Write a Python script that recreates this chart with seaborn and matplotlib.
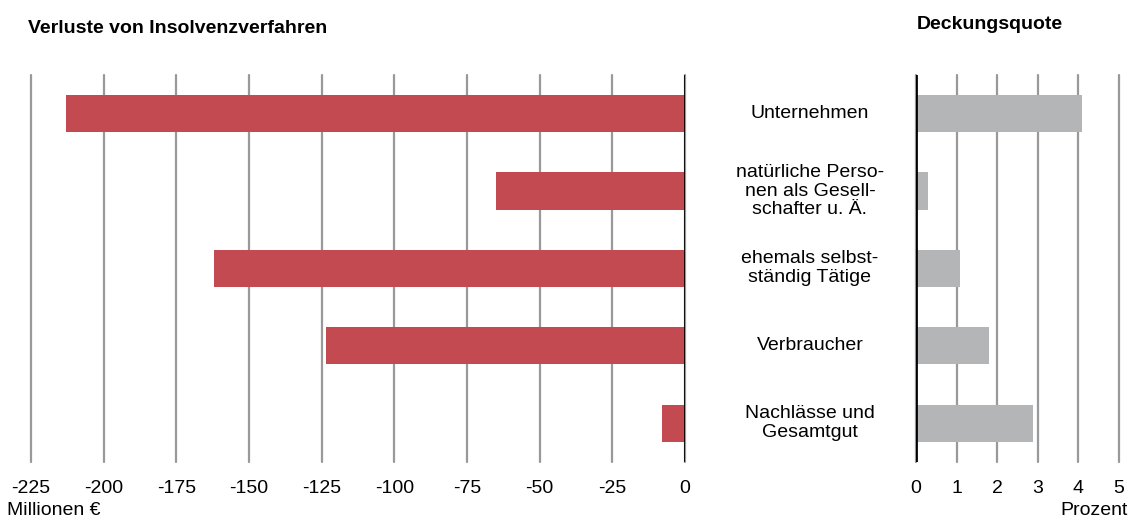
import matplotlib
matplotlib.use("Agg")
import matplotlib.pyplot as plt
import matplotlib.transforms as mtransforms
import seaborn as sns
import pandas as pd

# Daten
kategorien = [
    "Unternehmen",
    "natürliche Perso-\nnen als Gesell-\nschafter u. Ä.",
    "ehemals selbst-\nständig Tätige",
    "Verbraucher",
    "Nachlässe und\nGesamtgut",
]
verluste = [-213, -65, -162, -123.5, -8]       # Millionen €
deckungsquote = [4.08, 0.29, 1.08, 1.79, 2.88]  # Prozent

verlust_ticks = list(range(-225, 1, 25))
quote_ticks = list(range(0, 6))

sns.set_theme(style="white")
plt.rcParams['font.family'] = ['Liberation Sans', 'DejaVu Sans']
plt.rcParams['font.size'] = 14
plt.rcParams['text.color'] = 'black'

df = pd.DataFrame({"kategorie": kategorien, "verlust": verluste, "quote": deckungsquote})

fig = plt.figure(figsize=(11.32, 5.2), dpi=100)
ax1 = fig.add_axes([0.0274, 0.1115, 0.5777, 0.7445])
ax2 = fig.add_axes([0.8092, 0.1115, 0.1793, 0.7445])

# linkes Diagramm: Verluste
sns.barplot(data=df, x="verlust", y="kategorie", orient="h", ax=ax1,
            color="#C44A52", saturation=1, width=0.48, linewidth=0)
# rechtes Diagramm: Deckungsquote
sns.barplot(data=df, x="quote", y="kategorie", orient="h", ax=ax2,
            color="#B4B5B7", saturation=1, width=0.48, linewidth=0)

for ax, ticks in [(ax1, verlust_ticks), (ax2, quote_ticks)]:
    ax.set_xlim(ticks[0], ticks[-1])
    ax.set_ylim(4.5, -0.5)
    ax.set_xticks(ticks)
    ax.set_xticklabels([str(t) for t in ticks])
    ax.set_yticks([])
    ax.set_xlabel("")
    ax.set_ylabel("")
    for s in ax.spines.values():
        s.set_visible(False)
    ax.set_axisbelow(True)
    ax.grid(axis="x", color="#999999", linewidth=1.6)
    for gl in ax.get_xgridlines():
        gl.set_clip_on(False)
    ax.tick_params(axis="x", length=0, pad=13, labelsize=14, colors="black")
    ax.axvline(0, color="black", linewidth=2, zorder=5)

# Kategorienbeschriftung zwischen den Diagrammen
trans = mtransforms.blended_transform_factory(fig.transFigure, ax2.transData)
for i, k in enumerate(kategorien):
    fig.text(0.7155, i, k, transform=trans, ha="center", va="center",
             fontsize=14, linespacing=1.15, color="black")

fig.text(0.025, 0.946, "Verluste von Insolvenzverfahren", fontsize=14,
         fontweight="bold", ha="left", va="center")
fig.text(0.810, 0.952, "Deckungsquote", fontsize=14,
         fontweight="bold", ha="left", va="center")
fig.text(0.006, 0.018, "Millionen €", fontsize=14, ha="left", va="center")
fig.text(0.996, 0.018, "Prozent", fontsize=14, ha="right", va="center")

fig.savefig("out.png", dpi=100, facecolor="white")
